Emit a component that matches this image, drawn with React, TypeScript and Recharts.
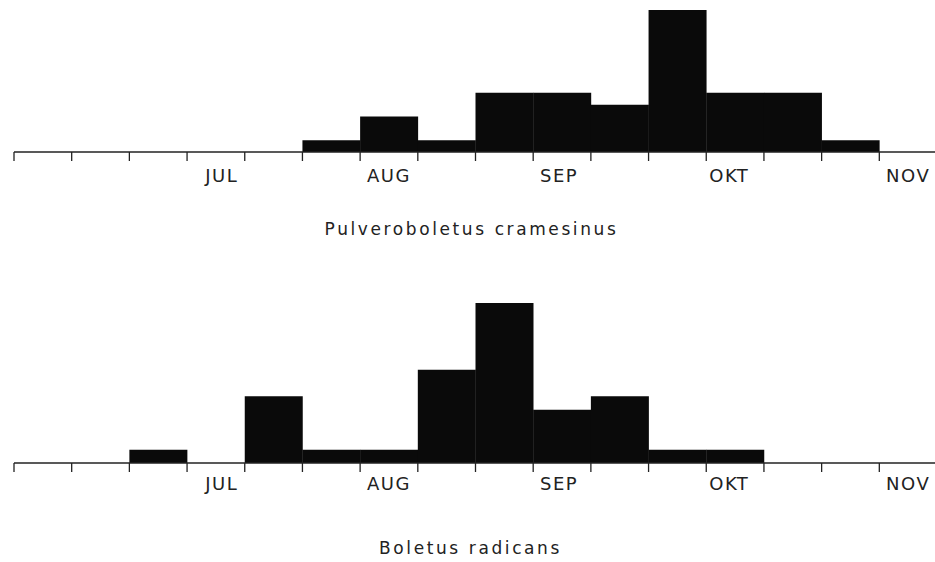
import { Bar, BarChart, XAxis, YAxis } from "recharts"

// ten-day periods, 16 bins from mid June to mid November
const bins = ["1", "2", "3", "4", "5", "6", "7", "8", "9", "10", "11", "12", "13", "14", "15", "16"]
const pulveroboletus = [0, 0, 0, 0, 0, 1, 3, 1, 5, 5, 4, 12, 5, 5, 1, 0]
const boletus = [0, 0, 1, 0, 5, 1, 1, 7, 12, 4, 5, 1, 1, 0, 0, 0]
const boundaryTicks = [0, 1, 2, 3, 4, 5, 6, 7, 8, 9, 10, 11, 12, 13, 14, 15, 16]
const monthTicks = [3.6, 6.5, 9.45, 12.4, 15.5]
const monthLabels = ["JUL", "AUG", "SEP", "OKT", "NOV"]

const font = "'DejaVu Sans', 'Liberation Sans', sans-serif"

interface HistogramProps {
  values: number[]
  top: number
  height: number
  marginTop: number
  marginBottom: number
  tickAxisHeight: number
}

function Histogram({ values, top, height, marginTop, marginBottom, tickAxisHeight }: HistogramProps) {
  // mid = centre of each bin on the numeric period axis
  const data = bins.map((bin, i) => ({ bin, mid: i + 0.5, count: values[i] }))
  return (
    <div style={{ position: "absolute", left: 0, top }}>
      <BarChart
        width={940}
        height={height}
        data={data}
        barCategoryGap={0}
        barGap={0}
        margin={{ top: marginTop, right: 3, left: 14, bottom: marginBottom }}
      >
        <XAxis
          xAxisId="days"
          dataKey="mid"
          type="number"
          domain={[0, 16]}
          allowDataOverflow
          ticks={boundaryTicks}
          interval={0}
          height={tickAxisHeight}
          tickSize={9}
          tickFormatter={() => ""}
          stroke="#222"
          strokeWidth={1.3}
        />
        <XAxis
          xAxisId="months"
          dataKey="mid"
          type="number"
          domain={[0, 16]}
          allowDataOverflow
          ticks={monthTicks}
          interval={0}
          height={30}
          axisLine={false}
          tickLine={false}
          tickSize={5}
          tickFormatter={(v: number) => monthLabels[monthTicks.indexOf(v)]}
          tick={{ fill: "#222", fontSize: 18, fontFamily: font, letterSpacing: 1.5 }}
        />
        <XAxis xAxisId="bins" dataKey="bin" type="category" height={0} hide />
        <YAxis hide domain={[0, 12]} />
        <Bar xAxisId="bins" dataKey="count" fill="#0a0a0a" isAnimationActive={false} />
      </BarChart>
    </div>
  )
}

export default function App() {
  return (
    <div
      style={{
        position: "absolute",
        left: 0,
        top: 0,
        width: 935,
        height: 562,
        background: "#fff",
        overflow: "hidden",
        fontFamily: font,
        color: "#222",
      }}
    >
      <Histogram values={pulveroboletus} top={0} height={200} marginTop={10} marginBottom={8} tickAxisHeight={10} />
      <div style={{ position: "absolute", top: 219, width: 943, textAlign: "center", fontSize: 17, letterSpacing: 2.6 }}>
        Pulveroboletus cramesinus
      </div>
      <Histogram values={boletus} top={290} height={220} marginTop={13} marginBottom={10} tickAxisHeight={7} />
      <div style={{ position: "absolute", top: 538, width: 941, textAlign: "center", fontSize: 17, letterSpacing: 2.6 }}>
        Boletus radicans
      </div>
    </div>
  )
}
